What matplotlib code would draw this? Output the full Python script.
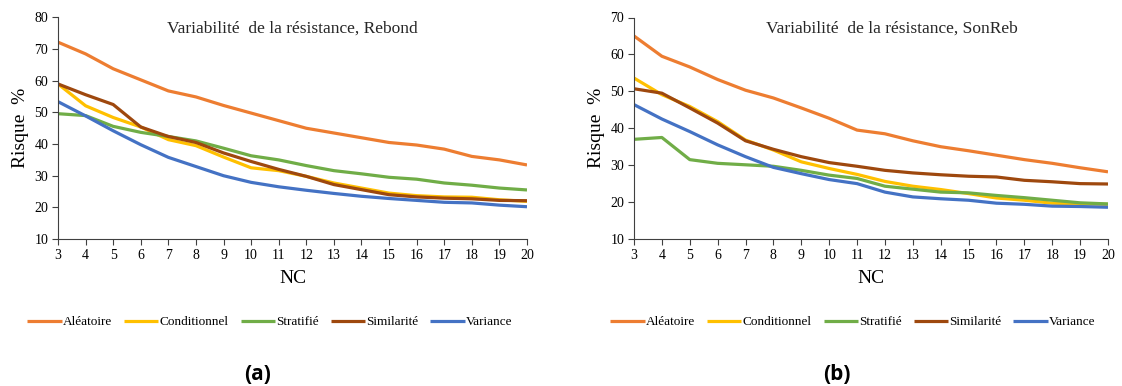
import matplotlib
matplotlib.use("Agg")
import matplotlib.pyplot as plt

nc = list(range(3, 21))
series_names = ["Aléatoire", "Conditionnel", "Stratifié", "Similarité", "Variance"]
colors = ["#ED7D31", "#FFC000", "#70AD47", "#9E480E", "#4472C4"]

# Panel (a): Rebond
a_aleatoire = [72.2, 68.5, 63.8, 60.3, 56.8, 54.9, 52.2, 49.8, 47.4, 45.0, 43.5, 42.0, 40.5, 39.7, 38.4, 36.1, 35.0, 33.4]
a_conditionnel = [59.0, 52.1, 48.4, 45.4, 41.4, 39.5, 35.9, 32.5, 31.6, 29.8, 27.7, 26.1, 24.5, 23.7, 23.3, 23.2, 22.4, 21.9]
a_stratifie = [49.6, 49.0, 45.6, 43.7, 42.4, 41.0, 38.7, 36.3, 35.0, 33.2, 31.6, 30.6, 29.5, 28.9, 27.7, 27.0, 26.1, 25.5]
a_similarite = [59.0, 55.6, 52.5, 45.4, 42.4, 40.5, 37.2, 34.5, 32.0, 29.8, 27.2, 25.6, 24.0, 23.3, 22.9, 22.7, 22.2, 22.1]
a_variance = [53.4, 48.9, 44.2, 39.8, 35.8, 32.9, 30.0, 27.9, 26.5, 25.4, 24.4, 23.5, 22.8, 22.2, 21.6, 21.4, 20.7, 20.2]

# Panel (b): SonReb
b_aleatoire = [65.0, 59.5, 56.6, 53.2, 50.3, 48.2, 45.5, 42.7, 39.5, 38.5, 36.6, 35.0, 33.9, 32.7, 31.5, 30.5, 29.3, 28.2]
b_conditionnel = [53.6, 49.1, 45.9, 41.8, 36.8, 34.1, 30.9, 29.1, 27.5, 25.6, 24.3, 23.4, 22.3, 21.1, 20.5, 19.7, 19.5, 19.4]
b_stratifie = [37.0, 37.5, 31.5, 30.5, 30.1, 29.7, 28.6, 27.3, 26.4, 24.3, 23.5, 22.7, 22.5, 21.8, 21.2, 20.5, 19.8, 19.5]
b_similarite = [50.7, 49.5, 45.5, 41.4, 36.6, 34.3, 32.3, 30.7, 29.7, 28.6, 27.9, 27.4, 27.0, 26.8, 25.9, 25.5, 25.0, 24.9]
b_variance = [46.4, 42.5, 39.1, 35.5, 32.3, 29.4, 27.7, 26.1, 25.0, 22.7, 21.4, 20.9, 20.5, 19.7, 19.4, 18.9, 18.8, 18.6]

titles = ["Variabilité  de la résistance, Rebond", "Variabilité  de la résistance, SonReb"]
panel_labels = ["(a)", "(b)"]
y_limits = [(10, 80), (10, 70)]

panels = [
    [a_aleatoire, a_conditionnel, a_stratifie, a_similarite, a_variance],
    [b_aleatoire, b_conditionnel, b_stratifie, b_similarite, b_variance],
]

W, H = 1122, 386
fig = plt.figure(figsize=(W / 100, H / 100), dpi=100)
serif = "Liberation Serif"

boxes = [(58, 527), (634, 1108)]
top_px, bottom_px = 17.5, 239
title_x = [0.5, 0.545]
legend_cx = [270, 853]
label_cx = [258, 837]

for i, (data, (l, r)) in enumerate(zip(panels, boxes)):
    ax = fig.add_axes([l / W, 1 - bottom_px / H, (r - l) / W, (bottom_px - top_px) / H])
    for vals, name, c in zip(data, series_names, colors):
        ax.plot(nc, vals, color=c, lw=2.3, label=name, solid_capstyle="butt")
    ax.set_xlim(3, 20)
    ax.set_ylim(*y_limits[i])
    ax.set_xticks(nc)
    ax.set_yticks(range(y_limits[i][0], y_limits[i][1] + 1, 10))
    for s in ["top", "right"]:
        ax.spines[s].set_visible(False)
    for s in ["left", "bottom"]:
        ax.spines[s].set_color("#404040")
        ax.spines[s].set_linewidth(0.8)
    ax.tick_params(axis="both", direction="out", length=4, width=0.8, color="#404040",
                   labelsize=10, pad=3)
    for lab in ax.get_xticklabels() + ax.get_yticklabels():
        lab.set_fontfamily(serif)
    ax.text(title_x[i], 0.985, titles[i], transform=ax.transAxes, ha="center", va="top",
            fontsize=12.5, fontfamily=serif, color="#262626")
    ax.set_ylabel("Risque  %", fontsize=14, fontfamily=serif, labelpad=4)
    ax.set_xlabel("NC", fontsize=14, fontfamily=serif, labelpad=6)
    fig.legend(*ax.get_legend_handles_labels(), loc="center",
               bbox_to_anchor=(legend_cx[i] / W, 1 - 322 / H), ncol=5, frameon=False,
               prop={"family": serif, "size": 9.5}, handlelength=2.6,
               handletextpad=0.1, columnspacing=0.9)
    fig.text(label_cx[i] / W, 1 - 374 / H, panel_labels[i], ha="center", va="center",
             fontsize=15, fontweight="bold", fontfamily="Open Sans")

fig.savefig("out.png", dpi=100)
